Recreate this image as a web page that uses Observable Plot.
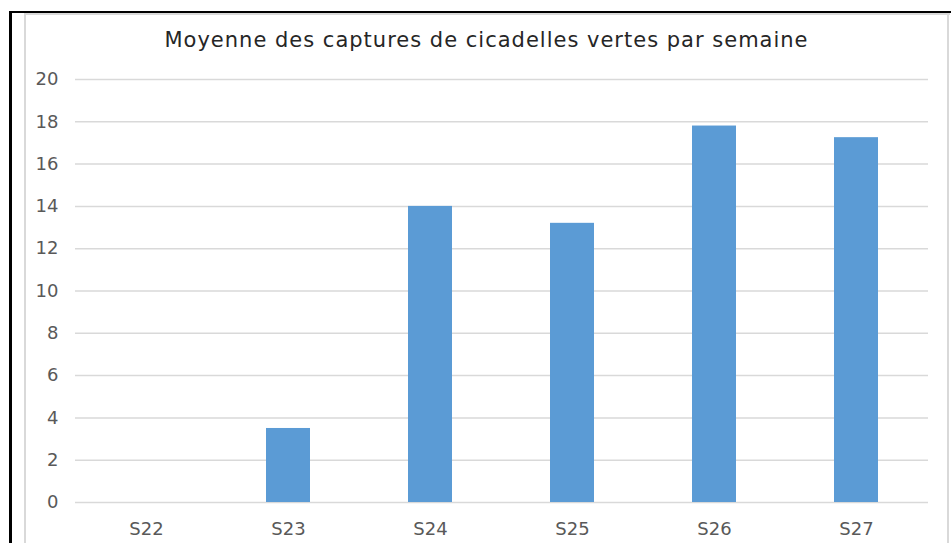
<!DOCTYPE html>
<html>
<head>
<meta charset="utf-8">
<script src="https://cdn.jsdelivr.net/npm/d3@7"></script>
<script src="https://cdn.jsdelivr.net/npm/@observablehq/plot@0.6"></script>
<style>
  html, body { margin: 0; padding: 0; background: #ffffff; }
  #wrap { position: relative; width: 951px; height: 543px; overflow: hidden; background: #fff; }
  #chart { position: absolute; left: 0; top: 0; }
  .blk-top { position: absolute; left: 9px; top: 11px; width: 942px; height: 2px; background: #000; }
  .blk-left { position: absolute; left: 9px; top: 11px; width: 3px; height: 540px; background: #000; }
  .gry-left { position: absolute; left: 24px; top: 13px; width: 2px; height: 530px; background: #d9d9d9; }
  .gry-top { position: absolute; left: 24px; top: 13px; width: 926px; height: 2px; background: #d9d9d9; }
  .gry-right { position: absolute; left: 947px; top: 13px; width: 2px; height: 530px; background: #d9d9d9; }
  #title { position: absolute; left: 24px; width: 925px; top: 30px; text-align: center;
           font-family: "DejaVu Sans", Verdana, sans-serif; font-size: 21px; letter-spacing: 1px; color: #262626; line-height: 1; }
</style>
</head>
<body>
<div id="wrap">
  <div id="chart"></div>
  <div class="gry-left"></div>
  <div class="gry-top"></div>
  <div class="gry-right"></div>
  <div class="blk-top"></div>
  <div class="blk-left"></div>
  <div id="title">Moyenne des captures de cicadelles vertes par semaine</div>
</div>
<script>
const weeks = ["S22", "S23", "S24", "S25", "S26", "S27"];
const captures = [0, 3.5, 14.0, 13.2, 17.8, 17.25];
const yTicks = [0, 2, 4, 6, 8, 10, 12, 14, 16, 18, 20];

const data = weeks.map((w, i) => ({week: w, value: captures[i]}));

const chart = Plot.plot({
  width: 951,
  height: 543,
  marginLeft: 75,
  marginRight: 23,
  marginTop: 79,
  marginBottom: 41,
  style: {fontFamily: "'DejaVu Sans', Verdana, sans-serif", fontSize: "18px", color: "#595959", background: "transparent"},
  x: {domain: weeks, paddingInner: 0.69, paddingOuter: 0.345, label: null},
  y: {domain: [0, 20], ticks: yTicks, label: null},
  marks: [
    Plot.ruleY(yTicks, {stroke: "#d9d9d9", strokeWidth: 1.5}),
    Plot.barY(data, {x: "week", y: "value", fill: "#5b9bd5"}),
    Plot.axisY({ticks: yTicks, tickSize: 0, tickPadding: 17, label: null, fill: "#595959", fontSize: 18}),
    Plot.axisX({tickSize: 0, tickPadding: 20, label: null, fill: "#595959", fontSize: 18})
  ]
});
document.getElementById("chart").appendChild(chart);
</script>
</body>
</html>
